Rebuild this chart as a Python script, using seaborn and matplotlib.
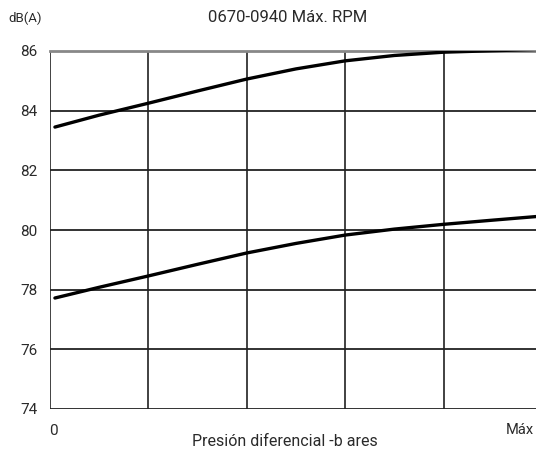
import matplotlib
matplotlib.use("Agg")
import matplotlib.pyplot as plt
import seaborn as sns
import pandas as pd

pressure = [0.05, 0.5, 1, 1.5, 2, 2.5, 3, 3.5, 4, 4.5, 4.94]
upper_db = [83.45, 83.85, 84.25, 84.66, 85.06, 85.4, 85.67, 85.85, 85.96, 86.01, 86.05]
lower_db = [77.72, 78.08, 78.46, 78.85, 79.23, 79.55, 79.83, 80.03, 80.19, 80.33, 80.45]
y_ticks = [74, 76, 78, 80, 82, 84, 86]
title = "0670-0940 Máx. RPM"
x_label = "Presión diferencial -b ares"
y_unit = "dB(A)"

df = pd.DataFrame({
    "p": pressure + pressure,
    "db": upper_db + lower_db,
    "serie": ["upper"] * len(pressure) + ["lower"] * len(pressure),
})

sns.set_theme(style="white")
plt.rcParams["font.family"] = ["Roboto", "DejaVu Sans"]

fig = plt.figure(figsize=(5.36, 4.55), dpi=100)
ax = fig.add_axes([50 / 536, 1 - 409 / 455, 1 - 50 / 536, (409 - 51) / 455])

sns.lineplot(data=df, x="p", y="db", units="serie", estimator=None,
             color="black", lw=2.4, ax=ax, legend=False, zorder=3)

ax.set_xlim(0, 4.94)
ax.set_ylim(74, 86)
ax.set_yticks(y_ticks)
ax.set_yticklabels([str(v) for v in y_ticks], fontsize=11, color="#2a2a2a")
ax.set_xticks([0, 1, 2, 3, 4])
ax.set_xticklabels([])
ax.tick_params(axis="x", length=0)
ax.tick_params(axis="y", length=4, width=1, color="#aaaaaa", pad=5)

for xv in [0, 1, 2, 3, 4]:
    ax.axvline(xv, color="#333333", lw=1.3, zorder=1)
for yv in y_ticks[:-1]:
    ax.axhline(yv, color="#222222", lw=1.3, zorder=1)

for s in ["left", "right", "bottom"]:
    ax.spines[s].set_visible(False)
ax.spines["top"].set_color("#888888")
ax.spines["top"].set_linewidth(2)

ax.set_xlabel("")
ax.set_ylabel("")

fig.text(53 / 536, 1 - 431 / 455, "0", fontsize=11, ha="center", va="center", color="#2a2a2a")
fig.text(520 / 536, 1 - 430 / 455, "Máx", fontsize=10.5, ha="center", va="center", color="#2a2a2a")
fig.text(285 / 536, 1 - 442 / 455, x_label, fontsize=11.5, ha="center", va="center", color="#2a2a2a")
fig.text(25 / 536, 1 - 18 / 455, y_unit, fontsize=9.5, ha="center", va="center", color="#2a2a2a")
fig.text(288 / 536, 1 - 18 / 455, title, fontsize=12, ha="center", va="center", color="#2a2a2a")

fig.savefig("out.png", dpi=100)
